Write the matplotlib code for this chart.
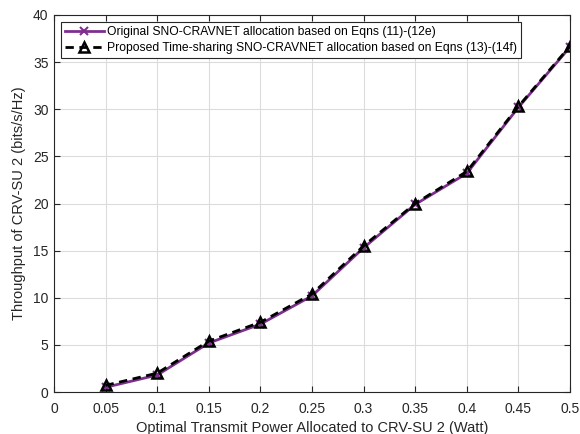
import matplotlib
matplotlib.use("Agg")
import matplotlib.pyplot as plt

plt.rcParams['font.family'] = ['Liberation Sans', 'DejaVu Sans']

power = [0.05, 0.1, 0.15, 0.2, 0.25, 0.3, 0.35, 0.4, 0.45, 0.5]
original = [0.5, 1.8, 5.2, 7.2, 10.2, 15.3, 19.9, 23.2, 30.2, 36.6]
proposed = [0.7, 2.0, 5.4, 7.4, 10.4, 15.5, 20.0, 23.4, 30.3, 36.7]
xticks = [0, 0.05, 0.1, 0.15, 0.2, 0.25, 0.3, 0.35, 0.4, 0.45, 0.5]
xticklabels = ['0', '0.05', '0.1', '0.15', '0.2', '0.25', '0.3', '0.35', '0.4', '0.45', '0.5']
yticks = [0, 5, 10, 15, 20, 25, 30, 35, 40]

fig = plt.figure(figsize=(5.8, 4.34), dpi=100)
ax = fig.add_axes([54/580, 42/434, 516/580, 377/434])

ax.plot(power, original, color='#7E2F8E', linewidth=2, marker='x', markersize=6,
        markeredgewidth=1.5, label='Original SNO-CRAVNET allocation based on Eqns (11)-(12e)')
ax.plot(power, proposed, color='black', linestyle='--', linewidth=2, marker='^', markersize=7,
        markerfacecolor='none', markeredgewidth=1.8, dashes=(3, 2),
        label='Proposed Time-sharing SNO-CRAVNET allocation based on Eqns (13)-(14f)')

ax.set_xlim(0, 0.5)
ax.set_ylim(0, 40)
ax.set_xticks(xticks)
ax.set_xticklabels(xticklabels)
ax.set_yticks(yticks)
ax.grid(True, color='#dcdcdc', linewidth=0.8)
ax.set_axisbelow(True)
ax.tick_params(direction='in', top=True, right=True, labelsize=10, colors='#262626', length=4)
ax.tick_params(axis='x', pad=7)
ax.tick_params(axis='y', pad=4)
for s in ax.spines.values():
    s.set_color('#262626')
    s.set_linewidth(0.8)

ax.set_xlabel('Optimal Transmit Power Allocated to CRV-SU 2 (Watt)', fontsize=10.5, color='#262626', labelpad=4)
ax.set_ylabel('Throughput of CRV-SU 2 (bits/s/Hz)', fontsize=10.5, color='#262626', labelpad=5)

leg = ax.legend(loc='upper left', fontsize=8.7, fancybox=False, framealpha=1,
                edgecolor='#262626', bbox_to_anchor=(0.0, 0.0, 1, 1.0),
                borderaxespad=0.55, handlelength=3.2, handletextpad=0.3,
                borderpad=0.35, labelspacing=0.35)
leg.get_frame().set_linewidth(0.8)

fig.savefig('out.png', dpi=100)
